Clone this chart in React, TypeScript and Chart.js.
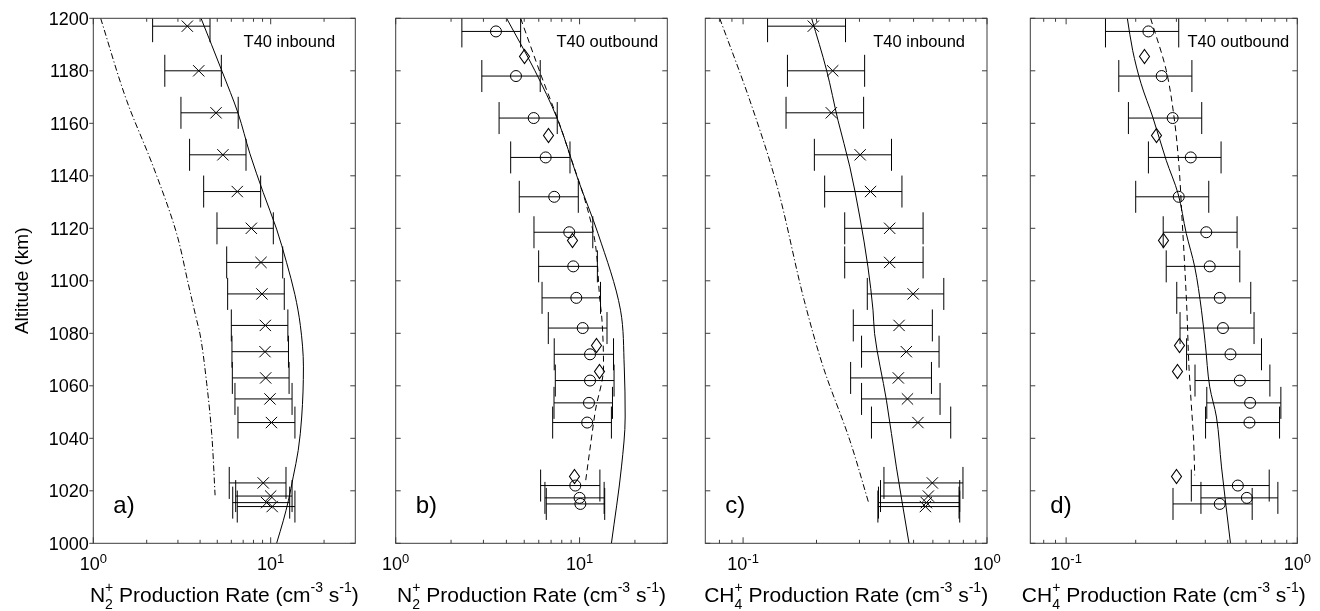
import React, { useEffect, useRef } from "react";
import { Chart, registerables } from "chart.js";
Chart.register(...registerables);

const FONT = '"Liberation Sans", Arial, Helvetica, sans-serif';

// ---------- axis ticks ----------
const altitudeTicks = [1000, 1020, 1040, 1060, 1080, 1100, 1120, 1140, 1160, 1180, 1200];
const n2Range = [1, 30];
const n2Major = [1, 10];
const n2MajorExp = ["0", "1"];
const n2Minor = [2, 3, 4, 5, 6, 7, 8, 9, 20];
const ch4Range = [0.07, 1];
const ch4Major = [0.1, 1];
const ch4MajorExp = ["-1", "0"];
const ch4Minor = [0.08, 0.09, 0.2, 0.3, 0.4, 0.5, 0.6, 0.7, 0.8, 0.9];

// ---------- T40 inbound measurements (x markers) ----------
const altInbound = [1197, 1180, 1164, 1148, 1134, 1120, 1107, 1095, 1083, 1073, 1063, 1055, 1046, 1023, 1018, 1015.5, 1014];
const n2Inbound = [3.39, 3.93, 4.92, 5.38, 6.48, 7.78, 8.82, 8.93, 9.33, 9.29, 9.37, 9.91, 10.1, 9.08, 10.0, 9.49, 10.2];
const n2InboundLo = [2.16, 2.53, 3.12, 3.49, 4.19, 4.98, 5.65, 5.72, 6.0, 6.05, 6.08, 6.29, 6.54, 5.84, 6.35, 6.11, 6.48];
const n2InboundHi = [4.55, 5.27, 6.56, 7.26, 8.78, 10.35, 11.69, 11.93, 12.5, 12.6, 12.7, 13.2, 13.7, 12.2, 13.2, 12.8, 13.7];
const ch4Inbound = [0.194, 0.233, 0.23, 0.302, 0.333, 0.399, 0.399, 0.498, 0.436, 0.467, 0.433, 0.472, 0.521, 0.597, 0.575, 0.564, 0.559];
const ch4InboundLo = [0.126, 0.152, 0.15, 0.196, 0.216, 0.261, 0.261, 0.323, 0.283, 0.306, 0.276, 0.306, 0.336, 0.378, 0.366, 0.359, 0.357];
const ch4InboundHi = [0.263, 0.315, 0.312, 0.406, 0.448, 0.547, 0.547, 0.665, 0.597, 0.636, 0.592, 0.642, 0.71, 0.797, 0.773, 0.768, 0.773];

// ---------- T40 outbound measurements (circles) ----------
const altOutbound = [1195, 1178, 1162, 1147, 1132, 1118.5, 1105.5, 1093.5, 1082, 1072, 1062, 1053.5, 1046, 1022, 1017.3, 1015];
const n2Outbound = [3.51, 4.51, 5.63, 6.54, 7.28, 8.79, 9.24, 9.6, 10.4, 11.4, 11.4, 11.25, 11.0, 9.48, 10.0, 10.1];
const n2OutboundLo = [2.29, 2.94, 3.65, 4.22, 4.7, 5.65, 5.99, 6.25, 6.76, 7.28, 7.38, 7.26, 7.14, 6.14, 6.48, 6.59];
const n2OutboundHi = [4.78, 6.11, 7.56, 8.87, 9.84, 11.8, 12.5, 13.0, 14.1, 15.3, 15.4, 15.1, 14.9, 12.9, 13.6, 13.7];
const ch4Outbound = [0.227, 0.259, 0.289, 0.346, 0.307, 0.404, 0.418, 0.462, 0.477, 0.514, 0.564, 0.625, 0.621, 0.553, 0.605, 0.462];
const ch4OutboundLo = [0.148, 0.169, 0.186, 0.227, 0.2, 0.263, 0.271, 0.301, 0.311, 0.332, 0.361, 0.406, 0.401, 0.348, 0.383, 0.29];
const ch4OutboundHi = [0.307, 0.35, 0.386, 0.468, 0.414, 0.549, 0.564, 0.629, 0.65, 0.7, 0.761, 0.849, 0.838, 0.756, 0.824, 0.638];

// ---------- outbound diamonds ----------
const altDiamond = [1185.5, 1155.5, 1115.5, 1075.5, 1065.5, 1025.5];
const n2Diamond = [5.0, 6.73, 9.1, 12.3, 12.7, 9.36];
const ch4Diamond = [0.218, 0.245, 0.263, 0.308, 0.301, 0.3];

// ---------- model curves ----------
const n2SolidAltA = [1200, 1179.8, 1163.7, 1148.4, 1133.6, 1119.7, 1106.9, 1094.7, 1083, 1067.2, 1048.1, 1035.4, 1025.3, 1016.4, 1008.8, 1000];
const n2SolidA = [4.05, 5.32, 6.56, 7.64, 9.08, 10.8, 12.3, 13.7, 14.7, 15.3, 14.96, 14.3, 13.4, 12.6, 11.8, 10.8];
const n2DashDotAltA = [1200, 1168.8, 1143.4, 1118, 1098.9, 1084.9, 1079.9, 1060.8, 1041.8, 1018.3];
const n2DashDotA = [1.1, 1.54, 2.18, 2.95, 3.43, 3.83, 3.99, 4.36, 4.65, 4.86];

const n2SolidAltB = [1200, 1180, 1161.8, 1138.3, 1118, 1088.8, 1067.2, 1048.1, 1029.1, 1000];
const n2SolidB = [4.01, 5.72, 7.56, 9.84, 12.6, 16.7, 17.5, 17.7, 16.9, 14.9];
const n2DashedAltB = [1200, 1177.7, 1161, 1145.9, 1130.7, 1115.4, 1092.6, 1086.2, 1067.2, 1050.7, 1038, 1024];
const n2DashedB = [4.78, 6.22, 7.66, 9.06, 10.7, 12.1, 12.9, 13.2, 13.5, 12.2, 11.5, 10.8];

const ch4SolidAltC = [1200, 1180.2, 1161.1, 1143.4, 1124.3, 1105.3, 1088.8, 1079.9, 1054.5, 1029.1, 1000];
const ch4SolidC = [0.191, 0.22, 0.245, 0.274, 0.301, 0.325, 0.341, 0.346, 0.387, 0.425, 0.479];
const ch4DashDotAltC = [1200, 1168.8, 1137, 1092.6, 1067.2, 1039.2, 1015.1];
const ch4DashDotC = [0.0802, 0.1065, 0.137, 0.178, 0.213, 0.274, 0.328];

const ch4SolidAltD = [1200, 1187.8, 1175.1, 1162.4, 1145.9, 1133.2, 1118, 1105.3, 1088.8, 1076, 1059.6, 1048.1, 1029.1, 1000];
const ch4SolidD = [0.184, 0.194, 0.211, 0.237, 0.271, 0.305, 0.331, 0.36, 0.385, 0.4, 0.418, 0.447, 0.47, 0.514];
const ch4DashedAltD = [1200, 1180.2, 1162.4, 1143.4, 1124.3, 1105.3, 1088.8, 1067.2, 1054.5, 1039.2, 1025.9];
const ch4DashedD = [0.232, 0.271, 0.293, 0.308, 0.317, 0.326, 0.333, 0.34, 0.347, 0.356, 0.36];

// ---------- helpers ----------
const pts = (xs: number[], ys: number[]) => xs.map((x, i) => ({ x, y: ys[i] }));

type Seg = { t?: string; k?: "sup" | "sub" | "stack"; sub?: string; sup?: string };

function drawRich(
  ctx: CanvasRenderingContext2D,
  segs: Seg[],
  x: number,
  y: number,
  size: number,
  small: number,
  supDy: number,
  subDy: number
) {
  const w = (s: Seg) => {
    if (s.k === "stack") {
      ctx.font = `${small}px ${FONT}`;
      return Math.max(ctx.measureText(s.sub!).width, ctx.measureText(s.sup!).width);
    }
    ctx.font = `${s.k ? small : size}px ${FONT}`;
    return ctx.measureText(s.t!).width;
  };
  const total = segs.reduce((a, s) => a + w(s), 0);
  let cx = x - total / 2;
  ctx.textAlign = "left";
  ctx.textBaseline = "alphabetic";
  for (const s of segs) {
    const sw = w(s);
    if (s.k === "stack") {
      ctx.font = `${small}px ${FONT}`;
      ctx.fillText(s.sup!, cx, y + supDy);
      ctx.fillText(s.sub!, cx, y + subDy);
    } else if (s.k === "sup") {
      ctx.font = `${small}px ${FONT}`;
      ctx.fillText(s.t!, cx, y + supDy);
    } else if (s.k === "sub") {
      ctx.font = `${small}px ${FONT}`;
      ctx.fillText(s.t!, cx, y + subDy);
    } else {
      ctx.font = `${size}px ${FONT}`;
      ctx.fillText(s.t!, cx, y);
    }
    cx += sw;
  }
}

const TOP = 18.3;
const BOTTOM = 543.3;

type PanelCfg = {
  left: number;
  right: number;
  species: "N" | "CH";
  tag: string;
  tagInset: number;
  letter: string;
  yLabels: boolean;
  datasets: any[];
};

function buildPanels(): PanelCfg[] {
  const crosses = (xs: number[], lo: number[], hi: number[]) => ({
    data: pts(xs, altInbound),
    errLo: lo,
    errHi: hi,
    pointStyle: "crossRot",
    pointRadius: 8,
    borderColor: "#000",
    borderWidth: 1,
    backgroundColor: "transparent",
  });
  const circles = (xs: number[], lo: number[], hi: number[]) => ({
    data: pts(xs, altOutbound),
    errLo: lo,
    errHi: hi,
    pointStyle: "circle",
    pointRadius: 5.5,
    borderColor: "#000",
    borderWidth: 1,
    backgroundColor: "transparent",
  });
  const diamonds = (xs: number[]) => ({
    data: pts(xs, altDiamond),
    diamond: true,
    pointRadius: 0,
    borderColor: "#000",
  });
  const line = (xs: number[], ys: number[], dash: number[]) => ({
    type: "line",
    indexAxis: "y",
    data: pts(xs, ys),
    showLine: true,
    pointRadius: 0,
    borderColor: "#000",
    borderWidth: 1,
    borderDash: dash,
    cubicInterpolationMode: "monotone",
    fill: false,
  });
  const DASHDOT = [6, 2.5, 1.2, 2.5];
  const DASHED = [6, 4];
  return [
    {
      left: 93.3, right: 355.3, species: "N", tag: "T40 inbound", tagInset: 20, letter: "a)", yLabels: true,
      datasets: [crosses(n2Inbound, n2InboundLo, n2InboundHi), line(n2SolidA, n2SolidAltA, []), line(n2DashDotA, n2DashDotAltA, DASHDOT)],
    },
    {
      left: 395.7, right: 667.3, species: "N", tag: "T40 outbound", tagInset: 9, letter: "b)", yLabels: false,
      datasets: [circles(n2Outbound, n2OutboundLo, n2OutboundHi), diamonds(n2Diamond), line(n2SolidB, n2SolidAltB, []), line(n2DashedB, n2DashedAltB, DASHED)],
    },
    {
      left: 705.3, right: 987, species: "CH", tag: "T40 inbound", tagInset: 22, letter: "c)", yLabels: false,
      datasets: [crosses(ch4Inbound, ch4InboundLo, ch4InboundHi), line(ch4SolidC, ch4SolidAltC, []), line(ch4DashDotC, ch4DashDotAltC, DASHDOT)],
    },
    {
      left: 1030.3, right: 1297.3, species: "CH", tag: "T40 outbound", tagInset: 8, letter: "d)", yLabels: false,
      datasets: [circles(ch4Outbound, ch4OutboundLo, ch4OutboundHi), diamonds(ch4Diamond), line(ch4SolidD, ch4SolidAltD, []), line(ch4DashedD, ch4DashedAltD, DASHED)],
    },
  ];
}

function makeDecor(cfg: PanelCfg) {
  return {
    id: "decor",
    beforeDatasetsDraw(chart: any) {
      const { ctx, chartArea } = chart;
      const xs = chart.scales.x;
      const ys = chart.scales.y;
      ctx.save();
      ctx.beginPath();
      ctx.rect(chartArea.left, chartArea.top, chartArea.right - chartArea.left, chartArea.bottom - chartArea.top);
      ctx.clip();
      ctx.strokeStyle = "#000";
      ctx.lineWidth = 1;
      ctx.beginPath();
      chart.data.datasets.forEach((ds: any) => {
        if (!ds.errLo) return;
        ds.data.forEach((p: any, j: number) => {
          const py = ys.getPixelForValue(p.y);
          const x1 = xs.getPixelForValue(ds.errLo[j]);
          const x2 = xs.getPixelForValue(ds.errHi[j]);
          ctx.moveTo(x1, py);
          ctx.lineTo(x2, py);
          ctx.moveTo(x1, py - 16);
          ctx.lineTo(x1, py + 16);
          ctx.moveTo(x2, py - 16);
          ctx.lineTo(x2, py + 16);
        });
      });
      ctx.stroke();
      ctx.restore();
    },
    afterDatasetsDraw(chart: any) {
      const { ctx } = chart;
      ctx.save();
      ctx.strokeStyle = "#000";
      ctx.lineWidth = 1.1;
      chart.data.datasets.forEach((ds: any, i: number) => {
        if (!ds.diamond) return;
        const meta = chart.getDatasetMeta(i);
        meta.data.forEach((el: any) => {
          const x = Math.round(el.x) + 0.5;
          const y = Math.round(el.y) + 0.5;
          ctx.beginPath();
          ctx.moveTo(x, y - 7);
          ctx.lineTo(x + 5, y);
          ctx.lineTo(x, y + 7);
          ctx.lineTo(x - 5, y);
          ctx.closePath();
          ctx.stroke();
        });
      });
      ctx.restore();
    },
    afterDraw(chart: any) {
      const { ctx, chartArea } = chart;
      const { left: L, right: R, top: T, bottom: B } = chartArea;
      const xs = chart.scales.x;
      const ys = chart.scales.y;
      const isN = cfg.species === "N";
      const major = isN ? n2Major : ch4Major;
      const majorExp = isN ? n2MajorExp : ch4MajorExp;
      const minor = isN ? n2Minor : ch4Minor;
      ctx.save();
      ctx.strokeStyle = "#3c3c3c";
      ctx.lineWidth = 1;
      ctx.strokeRect(L, T, R - L, B - T);
      ctx.beginPath();
      for (const v of altitudeTicks) {
        const py = ys.getPixelForValue(v);
        if (cfg.yLabels) {
          ctx.moveTo(L - 4, py);
          ctx.lineTo(L, py);
        } else {
          ctx.moveTo(L, py);
          ctx.lineTo(L + 5, py);
        }
        ctx.moveTo(R - 5, py);
        ctx.lineTo(R, py);
      }
      for (const v of major) {
        const px = xs.getPixelForValue(v);
        ctx.moveTo(px, B);
        ctx.lineTo(px, B - 6);
        ctx.moveTo(px, T);
        ctx.lineTo(px, T + 6);
      }
      for (const v of minor) {
        const px = xs.getPixelForValue(v);
        ctx.moveTo(px, B);
        ctx.lineTo(px, B - 3.5);
        ctx.moveTo(px, T);
        ctx.lineTo(px, T + 3.5);
      }
      ctx.stroke();

      ctx.fillStyle = "#000";
      if (cfg.yLabels) {
        ctx.font = `18px ${FONT}`;
        ctx.textAlign = "right";
        ctx.textBaseline = "alphabetic";
        for (const v of altitudeTicks) {
          const py = ys.getPixelForValue(v);
          ctx.fillText(String(v), L - 4.5, py + 6.5);
        }
        ctx.save();
        ctx.translate(23, (T + B) / 2);
        ctx.rotate(-Math.PI / 2);
        ctx.font = `19px ${FONT}`;
        ctx.textAlign = "center";
        ctx.textBaseline = "middle";
        ctx.fillText("Altitude (km)", 0, 0);
        ctx.restore();
      }
      major.forEach((v, i) => {
        const px = xs.getPixelForValue(v);
        drawRich(ctx, [{ t: "10" }, { t: majorExp[i], k: "sup" }], px, 570, 18, 13, -7.5, 0);
      });
      const title: Seg[] = [
        { t: isN ? "N" : "CH" },
        { k: "stack", sub: isN ? "2" : "4", sup: "+" },
        { t: " Production Rate (cm" },
        { t: "-3", k: "sup" },
        { t: " s" },
        { t: "-1", k: "sup" },
        { t: ")" },
      ];
      drawRich(ctx, title, (L + R) / 2, 601.5, 21, 14, -10, 7.5);
      ctx.font = `16.5px ${FONT}`;
      ctx.textAlign = "right";
      ctx.textBaseline = "alphabetic";
      ctx.fillText(cfg.tag, R - cfg.tagInset, 47);
      ctx.font = `24px ${FONT}`;
      ctx.textAlign = "left";
      ctx.fillText(cfg.letter, L + 20, 513);
      ctx.restore();
    },
  };
}

function Panel({ cfg }: { cfg: PanelCfg }) {
  const ref = useRef<HTMLCanvasElement>(null);
  useEffect(() => {
    const isN = cfg.species === "N";
    const range = isN ? n2Range : ch4Range;
    const chart = new Chart(ref.current!, {
      type: "scatter",
      data: { datasets: cfg.datasets },
      options: {
        animation: false,
        responsive: false,
        events: [],
        layout: { padding: { left: cfg.left, right: 1320 - cfg.right, top: TOP, bottom: 611 - BOTTOM } },
        plugins: { legend: { display: false }, tooltip: { enabled: false } },
        scales: {
          x: { type: "logarithmic", min: range[0], max: range[1], display: false },
          y: { type: "linear", min: 1000, max: 1200, display: false },
        },
      },
      plugins: [makeDecor(cfg)],
    } as any);
    return () => chart.destroy();
  }, [cfg]);
  return (
    <canvas
      ref={ref}
      width={1320}
      height={611}
      style={{ position: "absolute", left: 0, top: 0, width: 1320, height: 611 }}
    />
  );
}

export default function App() {
  const panels = React.useMemo(() => buildPanels(), []);
  return (
    <div style={{ position: "absolute", left: 0, top: 0, width: 1320, height: 611, background: "#fff" }}>
      {panels.map((p, i) => (
        <Panel key={i} cfg={p} />
      ))}
    </div>
  );
}
